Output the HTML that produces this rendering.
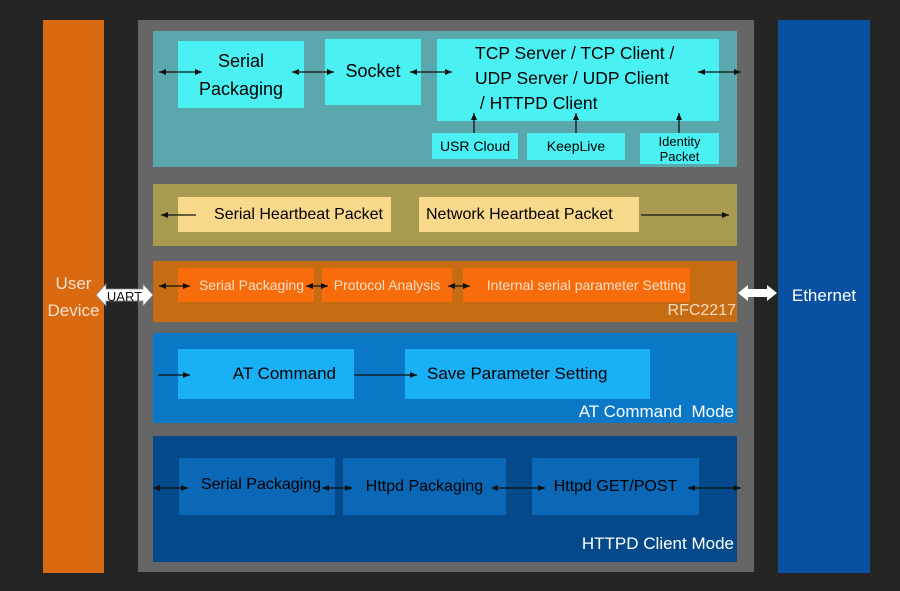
<!DOCTYPE html>
<html><head><meta charset="utf-8"><style>
body{margin:0;width:900px;height:591px;background:#252526;position:relative;overflow:hidden;font-family:"Liberation Sans",sans-serif}
div{position:absolute;box-sizing:border-box}
.t{display:flex;align-items:center;justify-content:center;text-align:center;line-height:1.2}
svg{position:absolute;left:0;top:0}
</style></head><body>
<div class="t" style="left:43px;top:20px;width:61px;height:553px;background:#d96a12;color:#f4e2cc;font-size:17px;line-height:27px">User<br>Device</div>
<div class="t" style="left:778px;top:20px;width:92px;height:553px;background:#0a50a2;color:#fff;font-size:17px;padding-left:0px">Ethernet</div>
<div style="left:138px;top:20px;width:616px;height:552px;background:#666"></div>

<div style="left:153px;top:31px;width:584px;height:136px;background:#5aa8ae"></div>
<div class="t" style="left:178px;top:41px;width:126px;height:67px;background:#4af0f2;font-size:18px;line-height:28px">Serial<br>Packaging</div>
<div class="t" style="left:325px;top:39px;width:96px;height:66px;background:#4af0f2;font-size:18px">Socket</div>
<div class="t" style="left:437px;top:39px;width:282px;height:82px;background:#4af0f2;font-size:17.5px;line-height:25px;justify-content:flex-start;padding-left:38px;text-align:left;align-items:flex-start;padding-top:2px">TCP Server / TCP Client /<br>UDP Server / UDP Client<br>&nbsp;/ HTTPD Client</div>
<div class="t" style="left:432px;top:133px;width:86px;height:26px;background:#4af0f2;font-size:14px">USR Cloud</div>
<div class="t" style="left:527px;top:133px;width:98px;height:27px;background:#4af0f2;font-size:14px">KeepLive</div>
<div class="t" style="left:640px;top:133px;width:79px;height:31px;background:#4af0f2;font-size:13px;line-height:15px">Identity<br>Packet</div>

<div style="left:153px;top:184px;width:584px;height:62px;background:#a89a4e"></div>
<div class="t" style="left:178px;top:197px;width:213px;height:35px;background:#f8d88a;font-size:16px;justify-content:flex-end;padding-right:8px">Serial Heartbeat Packet</div>
<div class="t" style="left:419px;top:197px;width:220px;height:35px;background:#f8d88a;font-size:16px;justify-content:flex-start;padding-left:7px">Network Heartbeat Packet</div>

<div style="left:153px;top:261px;width:584px;height:61px;background:#c66d14"></div>
<div class="t" style="left:178px;top:268px;width:136px;height:34px;background:#f86c0c;color:#f6e0c8;font-size:14px;justify-content:flex-end;padding-right:10px">Serial Packaging</div>
<div class="t" style="left:322px;top:268px;width:130px;height:34px;background:#f86c0c;color:#f6e0c8;font-size:14px">Protocol Analysis</div>
<div class="t" style="left:463px;top:268px;width:227px;height:34px;background:#f86c0c;color:#f6e0c8;font-size:14px;justify-content:flex-end;padding-right:4px">Internal serial parameter Setting</div>
<div style="left:640px;top:302px;width:96px;color:#f6dcc0;font-size:16px;text-align:right">RFC2217</div>

<div style="left:153px;top:333px;width:584px;height:90px;background:#0a78c6"></div>
<div class="t" style="left:178px;top:349px;width:176px;height:50px;background:#1ab0f6;font-size:17px;justify-content:flex-end;padding-right:18px">AT Command</div>
<div class="t" style="left:405px;top:349px;width:245px;height:50px;background:#1ab0f6;font-size:17px;justify-content:flex-start;padding-left:22px">Save Parameter Setting</div>
<div style="left:450px;top:402px;width:284px;color:#fff;font-size:17px;text-align:right">AT Command&nbsp; Mode</div>

<div style="left:153px;top:436px;width:584px;height:126px;background:#044a8a"></div>
<div class="t" style="left:179px;top:458px;width:156px;height:57px;background:#0a68b6;font-size:16px;justify-content:flex-end;padding-right:14px;padding-bottom:4px">Serial Packaging</div>
<div class="t" style="left:343px;top:458px;width:163px;height:57px;background:#0a68b6;font-size:16px">Httpd Packaging</div>
<div class="t" style="left:532px;top:458px;width:167px;height:57px;background:#0a68b6;font-size:16px">Httpd GET/POST</div>
<div style="left:450px;top:534px;width:284px;color:#fff;font-size:17px;text-align:right">HTTPD Client Mode</div>

<svg width="900" height="591" viewBox="0 0 900 591">
<defs>
<marker id="a" markerWidth="8" markerHeight="8" refX="7" refY="4" orient="auto-start-reverse" markerUnits="userSpaceOnUse"><path d="M0,1 L7,4 L0,7z" fill="#111"/></marker>
</defs>
<g stroke="#111" stroke-width="1.3" fill="none">
<line x1="159" y1="72" x2="202" y2="72" marker-start="url(#a)" marker-end="url(#a)"/>
<line x1="292" y1="72" x2="334" y2="72" marker-start="url(#a)" marker-end="url(#a)"/>
<line x1="410" y1="72" x2="452" y2="72" marker-start="url(#a)" marker-end="url(#a)"/>
<line x1="698" y1="72" x2="741" y2="72" marker-start="url(#a)" marker-end="url(#a)"/>
<line x1="474" y1="133" x2="474" y2="113" marker-end="url(#a)"/>
<line x1="576" y1="133" x2="576" y2="113" marker-end="url(#a)"/>
<line x1="679" y1="133" x2="679" y2="113" marker-end="url(#a)"/>
<line x1="196" y1="215" x2="161" y2="215" marker-end="url(#a)"/>
<line x1="641" y1="215" x2="729" y2="215" marker-end="url(#a)"/>
<line x1="159" y1="286" x2="190" y2="286" marker-start="url(#a)" marker-end="url(#a)"/>
<line x1="306" y1="286" x2="328" y2="286" marker-start="url(#a)" marker-end="url(#a)"/>
<line x1="448" y1="286" x2="470" y2="286" marker-start="url(#a)" marker-end="url(#a)"/>
<line x1="158" y1="375" x2="190" y2="375" marker-end="url(#a)"/>
<line x1="354" y1="375" x2="417" y2="375" marker-end="url(#a)"/>
<line x1="153" y1="488" x2="188" y2="488" marker-start="url(#a)" marker-end="url(#a)"/>
<line x1="322" y1="488" x2="352" y2="488" marker-start="url(#a)" marker-end="url(#a)"/>
<line x1="491" y1="488" x2="545" y2="488" marker-start="url(#a)" marker-end="url(#a)"/>
<line x1="688" y1="488" x2="741" y2="488" marker-start="url(#a)" marker-end="url(#a)"/>
</g>
<path d="M96,295 L106,284 L106,289 L143,289 L143,284 L153,295 L143,306 L143,301 L106,301 L106,306z" fill="#fff" stroke="#888" stroke-width="0.8"/>
<text x="124.5" y="301" font-size="13" text-anchor="middle" font-family="Liberation Sans" fill="#111">UART</text>
<path d="M738,293 L748,285 L748,289 L767,289 L767,285 L777,293 L767,301 L767,297 L748,297 L748,301z" fill="#fff"/>
</svg>
</body></html>
